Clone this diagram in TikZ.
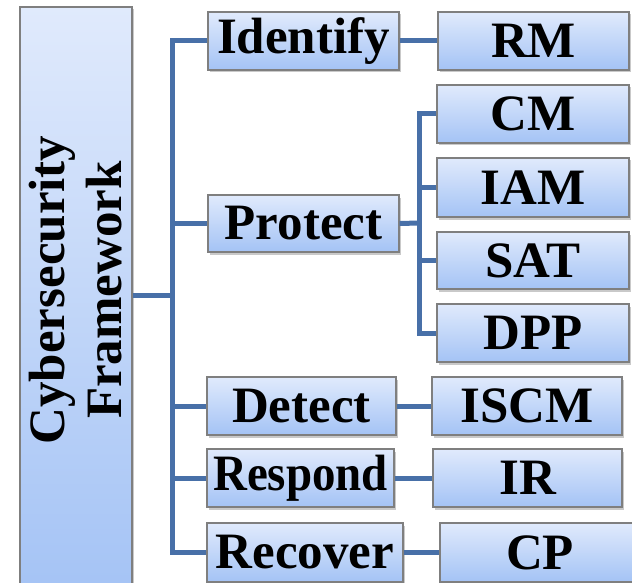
\documentclass[tikz,border=0pt]{standalone}
\usepackage{fontspec}
\setmainfont{Liberation Serif}
\usetikzlibrary{shadows}
\definecolor{linecol}{HTML}{4870A8}
\definecolor{boxtop}{HTML}{E0EAFC}
\definecolor{boxbot}{HTML}{A4C3F5}
\definecolor{boxedge}{HTML}{7F7F7F}
\tikzset{
  box/.style={draw=boxedge, line width=1.2pt, top color=boxtop, bottom color=boxbot,
    inner sep=0pt, font=\fontsize{51}{56}\selectfont\bfseries,
    drop shadow={shadow xshift=2pt, shadow yshift=-2.5pt, opacity=0.35, fill=black!60}},
  conn/.style={draw=linecol, line width=5pt, line join=miter},
}
\newcommand{\bx}[6]{% name, x1, y1, x2, y2, text
  \node[box, minimum width={#4-#2}, minimum height={#5-#3}] (#1) at ({(#2+#4)/2},{(#3+#5)/2}) {#6};}
\begin{document}
\begin{tikzpicture}[x=1pt,y=-1pt]
\useasboundingbox (0,0) rectangle (632,583);
\fill[white] (0,0) rectangle (632,583);
\coordinate (tk) at (172,295);
\coordinate (pb) at (419,223);
\node[box, minimum width=112, minimum height=590, drop shadow={opacity=0}] (fw) at (76,302) {};
\node[rotate=90, align=center, font=\fontsize{51}{57}\selectfont\bfseries, inner sep=0pt] (fwtext) at (76,290) {Cybersecurity\\Framework};
\bx{identify}{208}{12}{399}{70}{Identify}
\bx{protect}{208}{195}{399}{252}{Protect}
\bx{detect}{207}{377}{396}{435}{Detect}
\bx{respond}{207}{449}{394}{507}{\scalebox{0.92}[1]{Respond}}
\bx{recover}{207}{523}{403}{582}{Recover}
\bx{rm}{438}{12}{629}{70}{RM}
\bx{cm}{437}{85}{629}{143}{CM}
\bx{iam}{437}{158}{629}{217}{IAM}
\bx{sat}{437}{232}{629}{289}{SAT}
\bx{dpp}{437}{304}{629}{362}{DPP}
\bx{iscm}{432}{377}{622}{435}{ISCM}
\bx{ir}{433}{449}{622}{507}{IR}
\bx{cp}{440}{523}{640}{582}{CP}
\draw[conn] (fw.east |- tk) -- (tk);
\draw[conn] (identify.west) -| (tk) |- (recover.west);
\draw[conn] (tk |- protect.west) -- (protect.west);
\draw[conn] (tk |- detect.west) -- (detect.west);
\draw[conn] (tk |- respond.west) -- (respond.west);
\draw[conn] (identify.east) -- (rm.west);
\draw[conn] (protect.east) -- (pb);
\draw[conn] (cm.west) -| (pb) |- (dpp.west);
\draw[conn] (pb |- iam.west) -- (iam.west);
\draw[conn] (pb |- sat.west) -- (sat.west);
\draw[conn] (detect.east) -- (iscm.west);
\draw[conn] (respond.east) -- (ir.west);
\draw[conn] (recover.east) -- (cp.west);
\end{tikzpicture}
\end{document}
